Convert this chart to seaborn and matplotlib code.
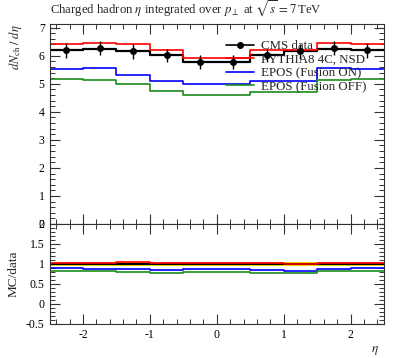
import numpy as np
import pandas as pd
import matplotlib
matplotlib.use("Agg")
import matplotlib.pyplot as plt
from matplotlib.lines import Line2D
from matplotlib.ticker import MultipleLocator
import seaborn as sns

# ---- data ----
edges = [-2.5, -2.0, -1.5, -1.0, -0.5, 0.0, 0.5, 1.0, 1.5, 2.0, 2.5]
centers = [-2.25, -1.75, -1.25, -0.75, -0.25, 0.25, 0.75, 1.25, 1.75, 2.25]
cms = [6.19, 6.26, 6.15, 6.01, 5.79, 5.79, 6.01, 6.15, 6.26, 6.19]
cms_err = [0.26, 0.25, 0.26, 0.24, 0.25, 0.25, 0.24, 0.26, 0.25, 0.26]
black_mc = [6.19, 6.25, 6.15, 6.02, 5.78, 5.78, 6.01, 6.15, 6.25, 6.19]
pythia = [6.42, 6.47, 6.42, 6.19, 5.93, 5.93, 6.19, 6.19, 6.47, 6.42]
epos_on = [5.52, 5.55, 5.32, 5.09, 5.00, 5.00, 5.11, 5.11, 5.55, 5.52]
epos_off = [5.18, 5.12, 4.99, 4.73, 4.60, 4.60, 4.70, 4.70, 5.15, 5.18]
yticks_main = [0, 1, 2, 3, 4, 5, 6, 7]
yticks_ratio = [-0.5, 0, 0.5, 1, 1.5, 2]
yticklabels_ratio = ["-0.5", "0", "0.5", "1", "1.5", "2"]
xticks = [-2, -1, 0, 1, 2]

sns.set_style("ticks")
plt.rcParams["font.family"] = ["Liberation Serif", "DejaVu Serif"]
plt.rcParams["mathtext.fontset"] = "stix"
plt.rcParams["axes.unicode_minus"] = False

W, H = 397, 358
fig = plt.figure(figsize=(W / 100, H / 100), dpi=100)
L, R = 49.5, 384.0
T1, B1, B2 = 24.0, 224.0, 324.0
ax = fig.add_axes([L / W, 1 - B1 / H, (R - L) / W, (B1 - T1) / H])
ax2 = fig.add_axes([L / W, 1 - B2 / H, (R - L) / W, (B2 - B1) / H], sharex=ax)

series = [
    ("black", black_mc, "black", 1.6),
    ("PYTHIA8 4C, NSD", pythia, "#ff0000", 1.2),
    ("EPOS (Fusion ON)", epos_on, "#0000ff", 1.2),
    ("EPOS (Fusion OFF)", epos_off, "#1a8c1a", 1.2),
]

for name, vals, col, lw in series:
    sns.histplot(x=centers, weights=vals, bins=edges, element="step", fill=False,
                 color=col, linewidth=lw, ax=ax)

ax.errorbar(centers, cms, yerr=cms_err, fmt="o", color="black", ms=4,
            elinewidth=1.0, capsize=0, zorder=10)

# ratio panel
cms_a = np.array(cms)
err_rel = np.array(cms_err) / cms_a
band_lo = np.append(1 - err_rel, (1 - err_rel)[-1])
band_hi = np.append(1 + err_rel, (1 + err_rel)[-1])
ax2.fill_between(edges, band_lo, band_hi, step="post",
                 color="#ffee00", linewidth=0, zorder=1)
for name, vals, col, lw in series:
    ratio = np.array(vals) / cms_a
    sns.histplot(x=centers, weights=ratio, bins=edges, element="step", fill=False,
                 color=col, linewidth=lw, ax=ax2)

# axes styling
for a in (ax, ax2):
    a.set_xlim(-2.5, 2.5)
    a.tick_params(which="both", direction="in", top=True, right=True, colors="#333333",
                  labelcolor="black", labelsize=8.5)
    a.tick_params(which="major", length=7, width=0.8)
    a.tick_params(which="minor", length=3.6, width=0.7)
    a.xaxis.set_major_locator(MultipleLocator(1))
    a.xaxis.set_minor_locator(MultipleLocator(0.2))
    for s in a.spines.values():
        s.set_linewidth(0.8)
        s.set_color("#333333")

ax.set_ylim(0, 7.13)
ax.set_yticks(yticks_main)
ax.yaxis.set_minor_locator(MultipleLocator(0.2))
ax.tick_params(labelbottom=False)
ax.set_xlabel("")
ax.set_ylabel(r"$dN_{\rm ch}\;/\;d\eta$", loc="top", fontsize=9)
ax.yaxis.set_label_coords(-0.075, 1.0)

ax2.set_ylim(-0.5, 2.0)
ax2.set_yticks(yticks_ratio)
ax2.set_yticklabels(yticklabels_ratio)
ax2.yaxis.set_minor_locator(MultipleLocator(0.1))
ax2.set_xticks(xticks)
ax2.set_xticklabels([str(v) for v in xticks])
ax2.set_ylabel("MC/data", fontsize=9.5)
ax2.yaxis.set_label_coords(-0.09, 0.5)
ax2.set_xlabel(r"$\eta$", loc="right", fontsize=9.5)
ax2.xaxis.set_label_coords(0.985, -0.2)

fig.text(L / W, 1 - 14 / H, r"Charged hadron $\eta$ integrated over $p_\perp$ at $\sqrt{s}\,=7\,$TeV",
         fontsize=9.2, ha="left", va="baseline")

handles = [
    Line2D([], [], color="black", marker="o", ms=4, lw=1.2),
    Line2D([], [], color="#ff0000", lw=1.2),
    Line2D([], [], color="#0000ff", lw=1.2),
    Line2D([], [], color="#1a8c1a", lw=1.2),
]
labels = ["CMS data", "PYTHIA8 4C, NSD", "EPOS (Fusion ON)", "EPOS (Fusion OFF)"]
ax.legend(handles, labels, loc="upper left", bbox_to_anchor=(0.527, 0.92),
          frameon=False, fontsize=9.3, handlelength=2.2, handletextpad=0.5,
          labelspacing=0.12, borderaxespad=0, borderpad=0)

fig.savefig("out.png", dpi=100)
